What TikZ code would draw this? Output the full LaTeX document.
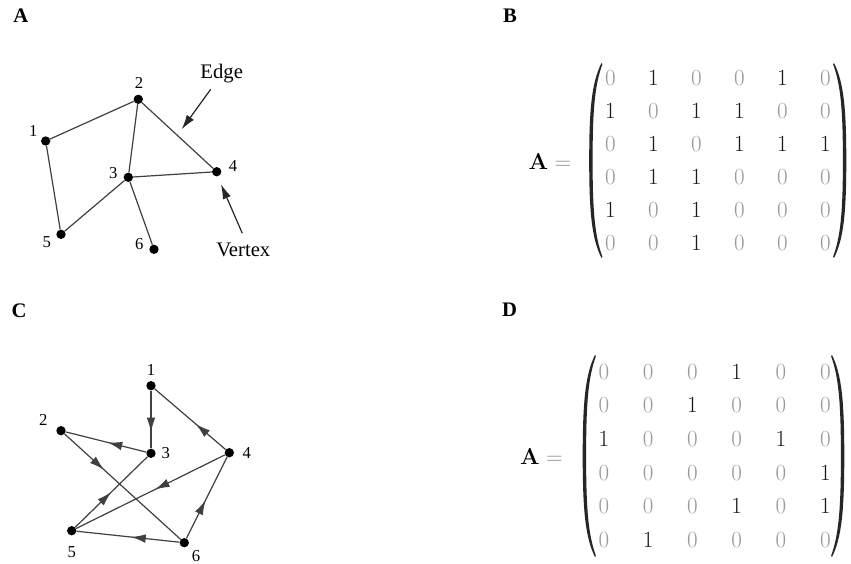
\documentclass[tikz,border=0pt]{standalone}
\usepackage[no-math]{fontspec}
\setmainfont{Liberation Serif}
\usetikzlibrary{arrows.meta,decorations.markings}

\tikzset{
  % a tall round bracket drawn as a filled crescent; #1 is its half height
  pics/bigparen/.style={code={
    \fill[black!85] (0,-#1) .. controls (-9.5,{-#1+19}) and (-12.3,{-#1*0.55}) .. (-12.3,0)
      .. controls (-12.3,{#1*0.55}) and (-9.5,{#1-19}) .. (0,#1)
      -- (0.9,{#1-1.2}) .. controls (-6.3,{#1-21}) and (-8.9,{#1*0.55}) .. (-8.9,0)
      .. controls (-8.9,{-#1*0.55}) and (-6.3,{-#1+21}) .. (0.9,{-#1+1.2}) -- cycle;
  }}
}

\begin{document}
\begin{tikzpicture}[x=0.75pt,y=-0.75pt,
  vtx/.style={circle,fill=black,inner sep=0pt,minimum size=7pt},
  lbl/.style={font=\fontsize{12.5}{15}\selectfont,inner sep=0pt},
  word/.style={font=\fontsize{15.5}{18}\selectfont,inner sep=0pt,anchor=base},
  panel/.style={font=\fontsize{15.5}{18}\selectfont\bfseries,inner sep=0pt},
  uedge/.style={draw=black!75,line width=0.9pt},
  dedge/.style={uedge,postaction={decorate},
    decoration={markings,mark=at position #1 with {\arrow{Latex[length=11pt,width=6.5pt]}}}},
  pointer/.style={draw=black!85,line width=0.9pt,-{Latex[length=11pt,width=6.5pt]}},
  cell0/.style={text=black!40,inner sep=0pt,font=\fontsize{18}{21}\selectfont},
  cell1/.style={text=black!90,inner sep=0pt,font=\fontsize{18}{21}\selectfont},
  mathlbl/.style={inner sep=0pt,font=\fontsize{18}{21}\selectfont},
]
\useasboundingbox (0,0) rectangle (851,564);
\fill[white] (0,0) rectangle (851,564);

% panel letters
\node[panel] (pA) at (20.8,15.5) {A};
\node[panel] (pB) at (510,15.8) {B};
\node[panel] (pC) at (19,310.8) {C};
\node[panel] (pD) at (509.5,310) {D};

% ---- undirected graph ----
\node[vtx] (a1) at (45.7,141) {};
\node[vtx] (a2) at (138.3,99.3) {};
\node[vtx] (a3) at (128.3,177.3) {};
\node[vtx] (a4) at (216.7,171.7) {};
\node[vtx] (a5) at (61,234.3) {};
\node[vtx] (a6) at (154,249.3) {};
\node[lbl] (la1) at (33.3,131) {1};
\node[lbl] (la2) at (139,82.7) {2};
\node[lbl] (la3) at (113.3,172.7) {3};
\node[lbl] (la4) at (233,166) {4};
\node[lbl] (la5) at (46.7,241.7) {5};
\node[lbl] (la6) at (139.3,244.3) {6};
\draw[uedge] (a1) -- (a2);
\draw[uedge] (a2) -- (a3);
\draw[uedge] (a2) -- (a4);
\draw[uedge] (a1) -- (a5);
\draw[uedge] (a3) -- (a4);
\draw[uedge] (a3) -- (a5);
\draw[uedge] (a3) -- (a6);

% annotation pointers
\node[word] (edgetxt) at (221.7,79) {Edge};
\node[word] (vertextxt) at (243.3,256.7) {Vertex};
\coordinate (edgestart) at (210.7,89.3);
\coordinate (edgetip) at (181.7,129.3);
\coordinate (vertexstart) at (242.3,233.3);
\coordinate (vertextip) at (221,184.3);
\draw[pointer] (edgestart) -- (edgetip);
\draw[pointer] (vertexstart) -- (vertextip);

% ---- directed graph ----
\node[vtx] (c1) at (151,385.7) {};
\node[vtx] (c2) at (61,430.7) {};
\node[vtx] (c3) at (151,453.3) {};
\node[vtx] (c4) at (229.3,452.7) {};
\node[vtx] (c5) at (71.7,530.7) {};
\node[vtx] (c6) at (184.3,542.7) {};
\node[lbl] (lc1) at (151,370) {1};
\node[lbl] (lc2) at (43.3,420) {2};
\node[lbl] (lc3) at (165.7,453.3) {3};
\node[lbl] (lc4) at (246.7,453.3) {4};
\node[lbl] (lc5) at (71.7,551.7) {5};
\node[lbl] (lc6) at (196,556.5) {6};
\draw[dedge=0.72] (c1) -- (c3);
\draw[dedge=0.42] (c4) -- (c1);
\draw[dedge=0.48] (c3) -- (c2);
\draw[dedge=0.34] (c2) -- (c6);
\draw[dedge=0.50] (c5) -- (c3);
\draw[dedge=0.47] (c4) -- (c5);
\draw[dedge=0.47] (c6) -- (c5);
\draw[dedge=0.47] (c6) -- (c4);

% ---- adjacency matrix of the undirected graph ----
\node[mathlbl] (eqB) at (550,161.5) {$\mathbf{A}\mathrel{\color{black!45}=}$};
\pic at (601.5,160.5) {bigparen=97.5};
\pic[xscale=-1] at (834,160.5) {bigparen=97.5};
\foreach \row [count=\i] in {{0,1,0,0,1,0},{1,0,1,1,0,0},{0,1,0,1,1,1},{0,1,1,0,0,0},{1,0,1,0,0,0},{0,0,1,0,0,0}}{
  \foreach \v [count=\j] in \row {
    \node[cell\v] (b-\i-\j) at ({610.5+(\j-1)*43},{78.3+(\i-1)*33}) {$\v$};
  }
}

% ---- adjacency matrix of the directed graph ----
\node[mathlbl] (eqD) at (541.5,456.7) {$\mathbf{A}\mathrel{\color{black!45}=}$};
\pic at (595,456) {bigparen=101};
\pic[xscale=-1] at (832,456) {bigparen=101};
\foreach \row [count=\i] in {{0,0,0,1,0,0},{0,0,1,0,0,0},{1,0,0,0,1,0},{0,0,0,0,0,1},{0,0,0,1,0,1},{0,1,0,0,0,0}}{
  \foreach \v [count=\j] in \row {
    \node[cell\v] (d-\i-\j) at ({603.8+(\j-1)*44.3},{371.7+(\i-1)*33.7}) {$\v$};
  }
}
\end{tikzpicture}
\end{document}
